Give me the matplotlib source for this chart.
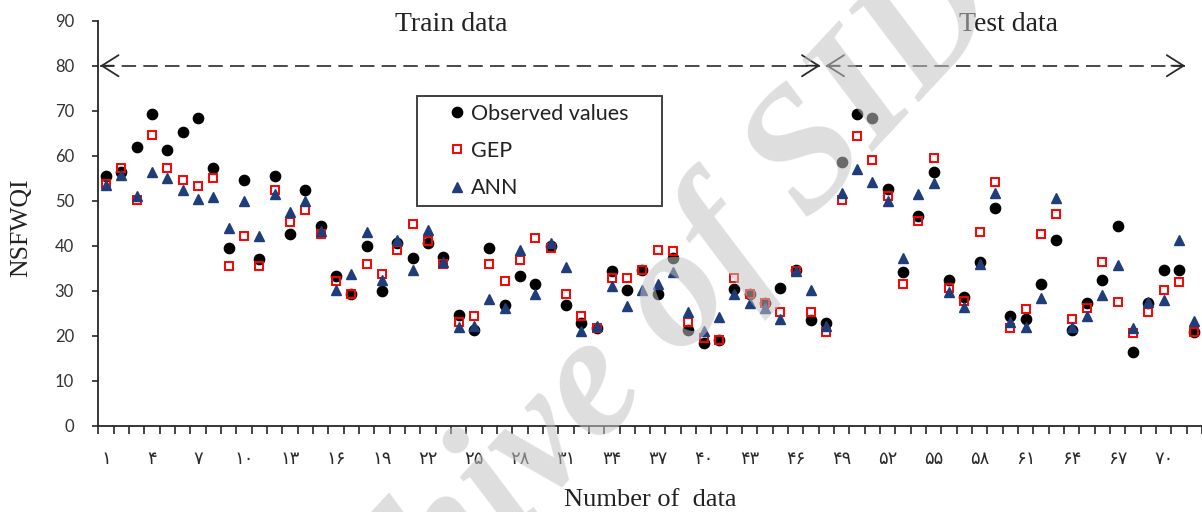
import matplotlib
matplotlib.use("Agg")
import matplotlib.pyplot as plt
import numpy as np

# ---------------- data ----------------
sample_no = list(range(1, 73))
observed = [55.5, 56.5, 62.0, 69.2, 61.2, 65.2, 68.3, 57.3, 39.5, 54.6,
            37.1, 55.5, 42.6, 52.4, 44.5, 33.2, 29.4, 40.0, 29.9, 40.6,
            37.4, 40.6, 37.5, 24.7, 21.3, 39.5, 26.8, 33.4, 31.6, 39.9,
            26.8, 22.8, 21.8, 34.5, 30.3, 34.6, 29.3, 37.2, 21.3, 18.5,
            19.2, 30.4, 29.4, 27.2, 30.7, 34.7, 23.5, 22.8, 58.7, 69.2,
            68.3, 52.6, 34.2, 46.7, 56.4, 32.5, 28.7, 36.4, 48.4, 24.5,
            23.7, 31.6, 41.4, 21.3, 27.4, 32.5, 44.4, 16.5, 27.2, 34.7,
            34.7, 20.9]
gep = [53.7, 57.3, 50.2, 64.7, 57.2, 54.6, 53.2, 55.1, 35.6, 42.2,
       35.5, 52.4, 45.3, 48.0, 42.6, 32.3, 29.4, 36.0, 33.8, 39.1,
       44.9, 41.0, 36.0, 23.1, 24.5, 36.0, 32.1, 36.9, 41.7, 39.5,
       29.4, 24.5, 21.8, 32.9, 32.9, 34.6, 39.1, 38.8, 23.1, 19.6,
       19.2, 32.9, 29.4, 27.2, 25.4, 34.4, 25.4, 20.9, 50.2, 64.4,
       59.0, 51.1, 31.6, 45.6, 59.4, 30.7, 27.7, 43.0, 54.1, 21.8,
       25.9, 42.7, 47.1, 23.7, 26.2, 36.5, 27.6, 20.6, 25.4, 30.3,
       32.0, 20.9]
ann = [53.5, 55.7, 51.1, 56.3, 55.0, 52.3, 50.5, 50.9, 44.0, 50.0,
       42.2, 51.5, 47.5, 50.0, 43.4, 30.3, 33.8, 43.0, 32.5, 41.4,
       34.7, 43.6, 36.4, 22.0, 22.3, 28.1, 26.2, 39.1, 29.3, 40.6,
       35.2, 21.1, 22.2, 31.0, 26.6, 30.3, 31.6, 34.3, 25.4, 21.1,
       24.2, 29.2, 27.2, 26.2, 23.7, 34.5, 30.3, 22.2, 51.7, 57.1,
       54.1, 50.0, 37.3, 51.5, 54.0, 29.7, 26.5, 36.0, 51.7, 23.0,
       22.0, 28.5, 50.6, 22.0, 24.4, 29.0, 35.8, 21.8, 27.5, 27.9,
       41.4, 23.3]
labeled_ticks = list(range(1, 71, 3))
yticks = list(range(0, 100, 10))
series_labels = ["Observed values", "GEP", "ANN"]
train_end = 48

persian = str.maketrans("0123456789", "۰۱۲۳۴۵۶۷۸۹")

# ---------------- figure ----------------
fig = plt.figure(figsize=(12.02, 5.12), dpi=100)
ax = fig.add_axes([0.0818, 0.168, 0.9182, 0.7916])

ax.plot(sample_no, observed, linestyle="none", marker="o", ms=7.4,
        color="black", mec="black", label=series_labels[0], zorder=3)
ax.plot(sample_no, gep, linestyle="none", marker="s", ms=6.4, mew=1.4,
        mfc="none", mec="#ff0000", label=series_labels[1], zorder=4)
ax.plot(sample_no, ann, linestyle="none", marker="^", ms=7.6,
        color="#1f3d7a", mec="#1f3d7a", label=series_labels[2], zorder=5)

ax.set_xlim(0.5, len(sample_no) + 0.5)
ax.set_ylim(0, 90)

for s in ["top", "right"]:
    ax.spines[s].set_visible(False)
for s in ["left", "bottom"]:
    ax.spines[s].set_color("#262626")
    ax.spines[s].set_linewidth(1.3)

ax.set_yticks(yticks)
ax.set_yticklabels([str(v) for v in yticks], fontfamily="Lato", fontsize=12,
                   color="#333333")
ax.tick_params(axis="y", direction="out", length=4.5, width=1.2,
               color="#262626", pad=13)

ax.set_xticks(labeled_ticks)
ax.set_xticklabels([str(v).translate(persian) for v in labeled_ticks],
                   fontfamily="DejaVu Sans", fontsize=13, color="#2a2a2a")
ax.set_xticks(np.arange(0.5, len(sample_no) + 0.51, 1.0), minor=True)
ax.tick_params(axis="x", which="major", length=0, pad=17)
ax.tick_params(axis="x", which="minor", direction="out", length=5.5,
               width=1.2, color="#262626")

ax.set_xlabel("Number of  data", fontfamily="Liberation Serif", fontsize=19,
              color="#222222")
ax.xaxis.set_label_coords(0.5, -0.155)
ax.set_ylabel("NSFWQI", fontfamily="Liberation Serif", fontsize=18.5,
              color="#222222")
ax.yaxis.set_label_coords(-0.060, 0.49)

# train / test arrows
arrow_y = 80
dash_kw = dict(color="#3a3a3a", lw=1.3, dashes=(8.0, 4.0), zorder=2,
               clip_on=False)
ax.plot([0.62, train_end - 0.4], [arrow_y, arrow_y], **dash_kw)
ax.plot([train_end - 0.05, len(sample_no) - 0.6], [arrow_y, arrow_y], **dash_kw)
head = dict(arrowstyle="->,head_length=0.6,head_width=0.38", lw=1.3,
            color="#2a2a2a", shrinkA=0, shrinkB=0, mutation_scale=20)
for tip, back in [(0.62, 1.5), (train_end - 0.4, train_end - 1.3),
                  (train_end - 0.05, train_end + 0.85),
                  (len(sample_no) - 0.6, len(sample_no) - 1.5)]:
    ax.annotate("", xy=(tip, arrow_y), xytext=(back, arrow_y),
                arrowprops=head, annotation_clip=False)

ax.text(23.5, 89.2, "Train data", fontfamily="Liberation Serif", fontsize=20,
        ha="center", va="center", color="#222222", clip_on=False)
ax.text(59.9, 89.2, "Test data", fontfamily="Liberation Serif", fontsize=20,
        ha="center", va="center", color="#222222", clip_on=False)

leg = ax.legend(loc="upper left", bbox_to_anchor=(0.2885, 0.541, 0.222, 0.273),
                mode="expand", numpoints=1, frameon=True, fancybox=False,
                prop={"family": "Lato", "size": 15.5}, handlelength=3.0,
                handletextpad=-0.85, borderpad=0.35, labelspacing=0.8,
                borderaxespad=0)
leg.get_frame().set_edgecolor("#111111")
leg.get_frame().set_linewidth(1.4)
for t in leg.get_texts():
    t.set_color("#222222")

# watermark
fig.text(0.507, 0.255, "Archive of SID", rotation=47, rotation_mode="anchor",
         ha="center", va="center", fontsize=125, fontfamily="Liberation Serif",
         style="italic", weight="bold", color="#c3c3c3", alpha=0.55, zorder=10)

fig.savefig("out.png", dpi=100, facecolor="white")
